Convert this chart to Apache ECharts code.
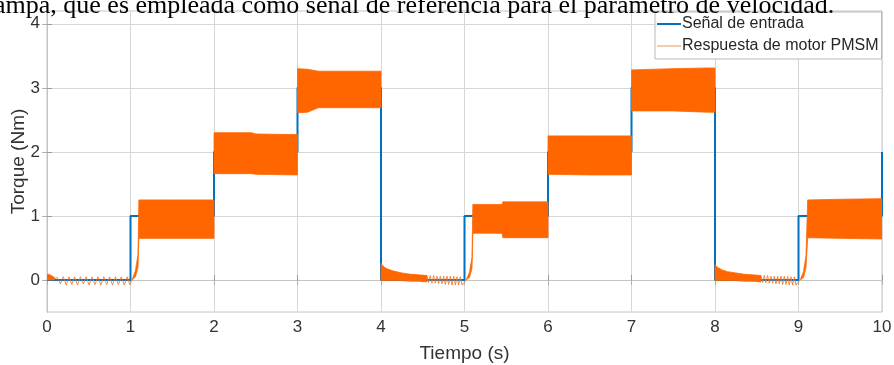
<!DOCTYPE html>
<html>
<head>
<meta charset="utf-8">
<script src="https://cdn.jsdelivr.net/npm/echarts@6/dist/echarts.min.js"></script>
<style>
  html, body { margin: 0; padding: 0; background: #ffffff; }
  #chart { width: 894px; height: 365px; }
</style>
</head>
<body>
<div id="chart"></div>
<script>
// Reference torque steps (held value from each time to the next)
const refTimes  = [0, 1, 2, 3, 4, 5, 6, 7, 8, 9, 10];
const refTorque = [0, 1, 2, 3, 0, 1, 2, 3, 0, 1, 2];

// Motor response: envelopes of the dense ripple, one block per interval
const bandTimes = [
  [0, 0.02, 0.05, 0.09],
  [1.02, 1.06, 1.09, 1.10, 1.5, 2.0],
  [2.0, 2.45, 2.5, 3.0],
  [3.0, 3.12, 3.25, 3.6, 4.0],
  [4.0, 4.01, 4.04, 4.08, 4.15, 4.25, 4.35, 4.45, 4.55],
  [5.02, 5.06, 5.09, 5.10, 5.45, 5.46, 6.0],
  [6.0, 6.5, 7.0],
  [7.0, 7.5, 7.9, 8.0],
  [8.0, 8.01, 8.04, 8.08, 8.15, 8.25, 8.35, 8.45, 8.55],
  [9.02, 9.06, 9.09, 9.11, 9.5, 10.0]
];
const bandUpper = [
  [0.08, 0.09, 0.07, 0.04],
  [0.0, 0.15, 0.40, 1.25, 1.25, 1.25],
  [2.30, 2.30, 2.28, 2.27],
  [3.30, 3.29, 3.26, 3.26, 3.26],
  [0.26, 0.24, 0.20, 0.17, 0.14, 0.11, 0.09, 0.08, 0.07],
  [0.0, 0.12, 0.35, 1.18, 1.18, 1.22, 1.22],
  [2.25, 2.25, 2.25],
  [3.28, 3.30, 3.31, 3.31],
  [0.24, 0.22, 0.19, 0.16, 0.13, 0.11, 0.09, 0.08, 0.07],
  [0.0, 0.13, 0.38, 1.25, 1.26, 1.27]
];
const bandLower = [
  [0.0, 0.0, 0.0, 0.0],
  [0.0, 0.05, 0.20, 0.65, 0.65, 0.65],
  [1.66, 1.66, 1.65, 1.64],
  [2.61, 2.62, 2.69, 2.69, 2.69],
  [-0.01, -0.01, -0.01, -0.01, -0.01, -0.01, -0.02, -0.02, -0.03],
  [0.0, 0.04, 0.18, 0.73, 0.73, 0.66, 0.66],
  [1.65, 1.64, 1.64],
  [2.64, 2.64, 2.62, 2.62],
  [-0.01, -0.01, -0.01, -0.01, -0.01, -0.01, -0.02, -0.02, -0.03],
  [0.0, 0.04, 0.20, 0.66, 0.65, 0.64]
];

// Motor response: individually visible ripple swings
const swingTimes1  = [0.09, 0.125, 0.16, 0.195, 0.23, 0.263, 0.297, 0.33, 0.365, 0.40, 0.435, 0.47, 0.505, 0.54, 0.575, 0.61, 0.645, 0.68, 0.715, 0.75, 0.785, 0.82, 0.855, 0.89, 0.925, 0.96, 0.99, 1.02];
const swingTorque1 = [0.02, 0.04, -0.06, 0.05, -0.08, 0.05, -0.07, 0.05, -0.08, 0.05, -0.06, 0.05, -0.08, 0.05, -0.07, 0.05, -0.08, 0.05, -0.07, 0.05, -0.08, 0.05, -0.07, 0.05, -0.08, 0.05, -0.07, 0.0];
const swingTimes2  = [4.55, 4.57, 4.59, 4.61, 4.63, 4.65, 4.67, 4.69, 4.71, 4.73, 4.75, 4.77, 4.79, 4.81, 4.83, 4.85, 4.87, 4.89, 4.91, 4.93, 4.95, 4.97, 4.99, 5.02];
const swingTorque2 = [0.07, -0.04, 0.07, -0.05, 0.07, -0.05, 0.06, -0.06, 0.06, -0.06, 0.06, -0.07, 0.06, -0.07, 0.06, -0.08, 0.06, -0.08, 0.05, -0.08, 0.05, -0.08, -0.05, 0.0];
const swingTimes3  = [8.55, 8.57, 8.59, 8.61, 8.63, 8.65, 8.67, 8.69, 8.71, 8.73, 8.75, 8.77, 8.79, 8.81, 8.83, 8.85, 8.87, 8.89, 8.91, 8.93, 8.95, 8.97, 8.99, 9.02];
const swingTorque3 = [0.07, -0.04, 0.07, -0.04, 0.07, -0.05, 0.06, -0.05, 0.06, -0.06, 0.06, -0.06, 0.06, -0.07, 0.06, -0.07, 0.06, -0.08, 0.05, -0.08, 0.05, -0.08, -0.05, 0.0];

const yTicks = [0, 1, 2, 3, 4];

const BLUE = '#0072BD';
const ORANGE = '#FF6600';
const SWING = '#F4772A';
const LEGEND_ORANGE = '#F3CBA8';
const FONT = '"Liberation Sans", Arial, Helvetica, sans-serif';
const REF_NAME = 'Señal de entrada';
const RESP_NAME = 'Respuesta de motor PMSM';

const zip = (a, b) => a.map((t, k) => [t, b[k]]);

function renderBand(params, api) {
  const i = api.value(2);
  const top = bandTimes[i].map((t, k) => api.coord([t, bandUpper[i][k]]));
  const bottom = bandTimes[i].map((t, k) => api.coord([t, bandLower[i][k]])).reverse();
  return {
    type: 'polygon',
    shape: { points: top.concat(bottom) },
    style: { fill: ORANGE, stroke: ORANGE, lineWidth: 0.8 }
  };
}

const chart = echarts.init(document.getElementById('chart'), null, { renderer: 'canvas' });

const swingSeries = [[swingTimes1, swingTorque1], [swingTimes2, swingTorque2], [swingTimes3, swingTorque3]]
  .map(([t, v]) => ({
    name: RESP_NAME,
    type: 'line',
    data: zip(t, v),
    symbol: 'none',
    lineStyle: { color: SWING, width: 1, opacity: 0.85 },
    itemStyle: { color: LEGEND_ORANGE },
    z: 4
  }));

chart.setOption({
  animation: false,
  backgroundColor: '#ffffff',
  grid: {
    left: 47, right: 12, top: 11, bottom: 53,
    containLabel: false,
    outerBoundsMode: 'none',
    show: true, borderColor: '#C4C4C4', borderWidth: 1
  },
  legend: {
    orient: 'vertical',
    left: 655,
    top: 12,
    backgroundColor: '#ffffff',
    borderColor: '#B8B8B8',
    borderWidth: 1,
    borderRadius: 0,
    padding: [4, 3, 5, 2],
    itemGap: 6,
    itemWidth: 24,
    itemHeight: 2,
    icon: 'rect',
    textStyle: { fontFamily: FONT, fontSize: 16, color: '#262626', padding: [0, 0, 0, -4] },
    data: [
      { name: REF_NAME, itemStyle: { color: BLUE } },
      { name: RESP_NAME, itemStyle: { color: LEGEND_ORANGE } }
    ],
    z: 10
  },
  xAxis: [
    {
      type: 'value',
      min: 0, max: 10, interval: 1,
      name: 'Tiempo (s)',
      nameLocation: 'middle',
      nameGap: 32,
      nameMoveOverlap: false,
      nameTextStyle: { fontFamily: FONT, fontSize: 19, color: '#333333' },
      axisLine: { show: true, lineStyle: { color: '#9C9C9C', width: 1 } },
      axisTick: { show: true, inside: true, length: 5, lineStyle: { color: '#9C9C9C' } },
      axisLabel: { fontFamily: FONT, fontSize: 17, color: '#333333', margin: 7 },
      splitLine: { show: true, lineStyle: { color: '#D6D6D6', width: 1 } }
    },
    {
      type: 'value',
      position: 'top',
      min: 0, max: 10, interval: 1,
      axisLine: { show: true, lineStyle: { color: '#C4C4C4', width: 1 } },
      axisTick: { show: true, inside: true, length: 5, lineStyle: { color: '#B0B0B0' } },
      axisLabel: { show: false },
      splitLine: { show: false }
    }
  ],
  yAxis: [
    {
      type: 'value',
      min: -0.5, max: 4.2,
      name: 'Torque (Nm)',
      nameLocation: 'middle',
      nameGap: 19,
      nameMoveOverlap: false,
      nameTextStyle: { fontFamily: FONT, fontSize: 19, color: '#333333' },
      axisLine: { show: true, lineStyle: { color: '#9C9C9C', width: 1 } },
      axisTick: { show: true, inside: true, length: 5, customValues: yTicks, lineStyle: { color: '#9C9C9C' } },
      axisLabel: { fontFamily: FONT, fontSize: 17, color: '#333333', margin: 7, customValues: yTicks },
      splitLine: { show: true, lineStyle: { color: '#D6D6D6', width: 1 } }
    },
    {
      type: 'value',
      position: 'right',
      min: -0.5, max: 4.2,
      axisLine: { show: true, lineStyle: { color: '#C4C4C4', width: 1 } },
      axisTick: { show: true, inside: true, length: 5, customValues: yTicks, lineStyle: { color: '#B0B0B0' } },
      axisLabel: { show: false },
      splitLine: { show: false }
    }
  ],
  graphic: [
    {
      type: 'text',
      z: 100,
      style: {
        x: -6,
        y: 19,
        text: 'ampa, que es empleada como señal de referencia para el parámetro de velocidad.',
        font: '26px "Liberation Serif", "Times New Roman", serif',
        fill: '#000000',
        verticalAlign: 'bottom'
      }
    }
  ],
  series: [
    {
      name: REF_NAME,
      type: 'line',
      step: 'end',
      data: zip(refTimes, refTorque),
      symbol: 'none',
      lineStyle: { color: BLUE, width: 2 },
      itemStyle: { color: BLUE },
      z: 2
    },
    {
      name: 'envolvente',
      type: 'custom',
      renderItem: renderBand,
      data: bandTimes.map((t, i) => [t[0], bandUpper[i][0], i]),
      encode: { x: 0, y: 1 },
      clip: true,
      z: 3
    }
  ].concat(swingSeries)
});
</script>
</body>
</html>
